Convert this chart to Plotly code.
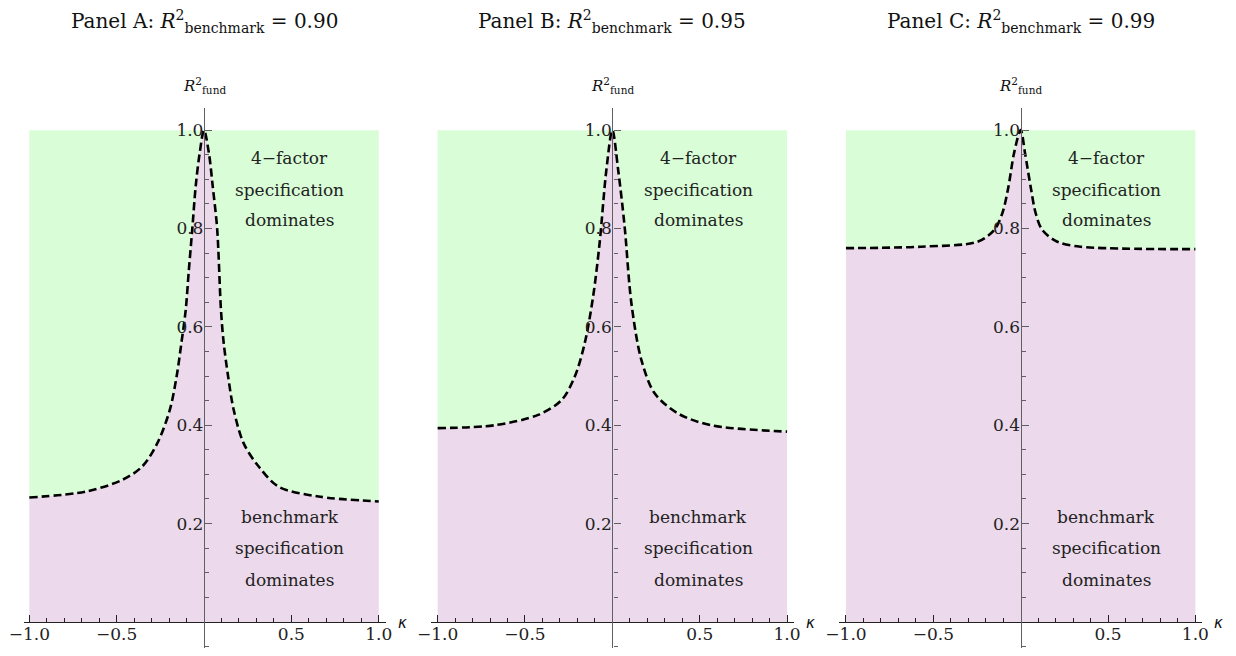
import plotly.graph_objects as go

# ---- data ----
panel_names = ["A", "B", "C"]
benchmark_r2 = ["0.90", "0.95", "0.99"]

kappa_A = [-1.0, -0.678, -0.467, -0.354, -0.268, -0.196, -0.157, -0.13, -0.105, -0.087, -0.067, -0.048, -0.025, 0.0,
           0.028, 0.05, 0.075, 0.097, 0.113, 0.138, 0.17, 0.227, 0.313, 0.427, 0.655, 1.0]
r2_A = [0.253, 0.265, 0.289, 0.316, 0.363, 0.431, 0.499, 0.566, 0.634, 0.715, 0.80, 0.885, 0.953, 1.0,
        0.953, 0.885, 0.80, 0.634, 0.566, 0.499, 0.431, 0.363, 0.316, 0.275, 0.255, 0.245]

kappa_B = [-1.0, -0.673, -0.425, -0.291, -0.215, -0.158, -0.11, -0.073, -0.034, 0.0,
           0.033, 0.07, 0.109, 0.166, 0.242, 0.375, 0.566, 1.0]
r2_B = [0.394, 0.400, 0.421, 0.451, 0.499, 0.567, 0.662, 0.770, 0.92, 1.0,
        0.92, 0.805, 0.648, 0.533, 0.465, 0.424, 0.400, 0.387]

kappa_C = [-1.0, -0.571, -0.248, -0.152, -0.105, -0.07, -0.038, 0.0,
           0.025, 0.057, 0.086, 0.124, 0.21, 0.343, 1.0]
r2_C = [0.760, 0.763, 0.773, 0.797, 0.831, 0.885, 0.953, 1.0,
        0.953, 0.885, 0.831, 0.797, 0.773, 0.763, 0.758]

kappas = [kappa_A, kappa_B, kappa_C]
r2s = [r2_A, r2_B, r2_C]
upper_bound = 1.0

upper_label = ["4\u2212factor", "specification", "dominates"]
lower_label = ["benchmark", "specification", "dominates"]
upper_label_y = [0.943, 0.878, 0.817]
lower_label_y = [0.213, 0.150, 0.085]
label_x = 0.491

x_tickvals = [-1.0, -0.5, 0.5, 1.0]
x_ticktext = ["\u22121.0", "\u22120.5", "0.5", "1.0"]
x_minor = [-0.9, -0.8, -0.7, -0.6, -0.4, -0.3, -0.2, -0.1, 0.1, 0.2, 0.3, 0.4, 0.6, 0.7, 0.8, 0.9]
y_tickvals = [0.2, 0.4, 0.6, 0.8, 1.0]
y_ticktext = ["0.2", "0.4", "0.6", "0.8", "1.0"]
y_minor = [-0.05, 0.05, 0.1, 0.15, 0.25, 0.3, 0.35, 0.45, 0.5, 0.55, 0.65, 0.7, 0.75, 0.85, 0.9, 0.95]

# ---- layout geometry (reference pixels, corrected for page offset) ----
OFF = 8
W, H = 1236 - 2 * OFF, 656 - 2 * OFF
SX, AX0 = 0.9836, 13.8


def fx(px):
    return ((px - AX0) / SX - OFF) / W


def fy(py):
    return 1 - (py - OFF) / H


zero_px = [202, 611, 1020]
unit_px = 175
x_ext = 1.04
y_range = [-0.053, 1.045]
y_dom = [fy(648), fy(108)]
xaxis_pos = fy(622)
min_px = AX0 + SX * OFF + 0.5

GREEN = "rgb(217,253,215)"
PINK = "rgb(236,218,236)"
AXC = "#606060"
FONT = "DejaVu Serif"

fig = go.Figure()
layout = dict(width=W, height=H, margin=dict(l=0, r=0, t=0, b=0),
              paper_bgcolor="white", plot_bgcolor="rgba(0,0,0,0)",
              showlegend=False, font=dict(family=FONT, size=17, color="#222"))
annotations = []

for i in range(3):
    k = kappas[i]
    r = r2s[i]
    xa = "x" if i == 0 else f"x{i+1}"
    ya = "y" if i == 0 else f"y{i+1}"
    fig.add_trace(go.Scatter(x=k, y=r, mode="lines", line=dict(width=0, shape="spline", smoothing=0.9),
                             fill="tozeroy", fillcolor=PINK, xaxis=xa, yaxis=ya, hoverinfo="skip"))
    fig.add_trace(go.Scatter(x=k, y=[upper_bound] * len(k), mode="lines", line=dict(width=0),
                             fill="tonexty", fillcolor=GREEN, xaxis=xa, yaxis=ya, hoverinfo="skip"))
    fig.add_trace(go.Scatter(x=k, y=r, mode="lines",
                             line=dict(color="black", width=2.6, dash="8px,4px", shape="spline", smoothing=0.9),
                             xaxis=xa, yaxis=ya, hoverinfo="skip"))

    z = zero_px[i]
    left_px = max(z - x_ext * unit_px, min_px)
    right_px = z + x_ext * unit_px
    x_range = [(left_px - z) / unit_px, x_ext]
    dom = [fx(left_px), fx(right_px)]
    xkey = "xaxis" if i == 0 else f"xaxis{i+1}"
    ykey = "yaxis" if i == 0 else f"yaxis{i+1}"
    layout[xkey] = dict(domain=dom, range=x_range, anchor="free", position=xaxis_pos,
                        showgrid=False, zeroline=False, showline=True, linecolor="#222", linewidth=1.2,
                        tickmode="array", tickvals=x_tickvals, ticktext=x_ticktext,
                        ticks="inside", ticklen=7, tickcolor="#222", tickwidth=1,
                        minor=dict(tickmode="array", tickvals=x_minor, ticks="inside", ticklen=4,
                                   tickcolor="#222", tickwidth=1),
                        ticklabelstandoff=-4, ticklabeloverflow="allow",
                        tickfont=dict(family=FONT, size=17, color="#222"), fixedrange=True)
    layout[ykey] = dict(domain=y_dom, range=y_range, anchor="free", position=fx(z),
                        showgrid=False, zeroline=False, showline=True, linecolor=AXC, linewidth=1.4,
                        tickmode="array", tickvals=y_tickvals, ticktext=y_ticktext,
                        ticks="inside", ticklen=7, tickcolor=AXC, tickwidth=1,
                        minor=dict(tickmode="array", tickvals=y_minor, ticks="inside", ticklen=4,
                                   tickcolor=AXC, tickwidth=1),
                        ticklabelstandoff=-3, ticklabeloverflow="allow",
                        tickfont=dict(family=FONT, size=17, color="#222"), fixedrange=True)

    annotations.append(dict(xref="paper", yref="paper", x=fx(z), y=fy(22),
                            text=f"Panel {panel_names[i]}: <i>R</i><sup>2</sup><sub>benchmark</sub> = {benchmark_r2[i]}",
                            showarrow=False, font=dict(family=FONT, size=20, color="#111"),
                            xanchor="center", yanchor="middle"))
    annotations.append(dict(xref="paper", yref="paper", x=fx(z), y=fy(86),
                            text="<i>R</i><sup>2</sup><sub>fund</sub>",
                            showarrow=False, font=dict(family=FONT, size=15, color="#111"),
                            xanchor="center", yanchor="middle"))
    annotations.append(dict(xref="paper", yref="paper", x=fx(z + 192), y=fy(623),
                            text="<i>\u03ba</i>", showarrow=False,
                            font=dict(family="DejaVu Sans", size=15, color="#111"),
                            xanchor="left", yanchor="middle"))
    for txt, yy in zip(upper_label, upper_label_y):
        annotations.append(dict(xref=xa, yref=ya, x=label_x, y=yy, text=txt, showarrow=False,
                                font=dict(family=FONT, size=17, color="#222"),
                                xanchor="center", yanchor="middle"))
    for txt, yy in zip(lower_label, lower_label_y):
        annotations.append(dict(xref=xa, yref=ya, x=label_x, y=yy, text=txt, showarrow=False,
                                font=dict(family=FONT, size=17, color="#222"),
                                xanchor="center", yanchor="middle"))

layout["annotations"] = annotations
fig.update_layout(**layout)
fig.write_html("out.html")
